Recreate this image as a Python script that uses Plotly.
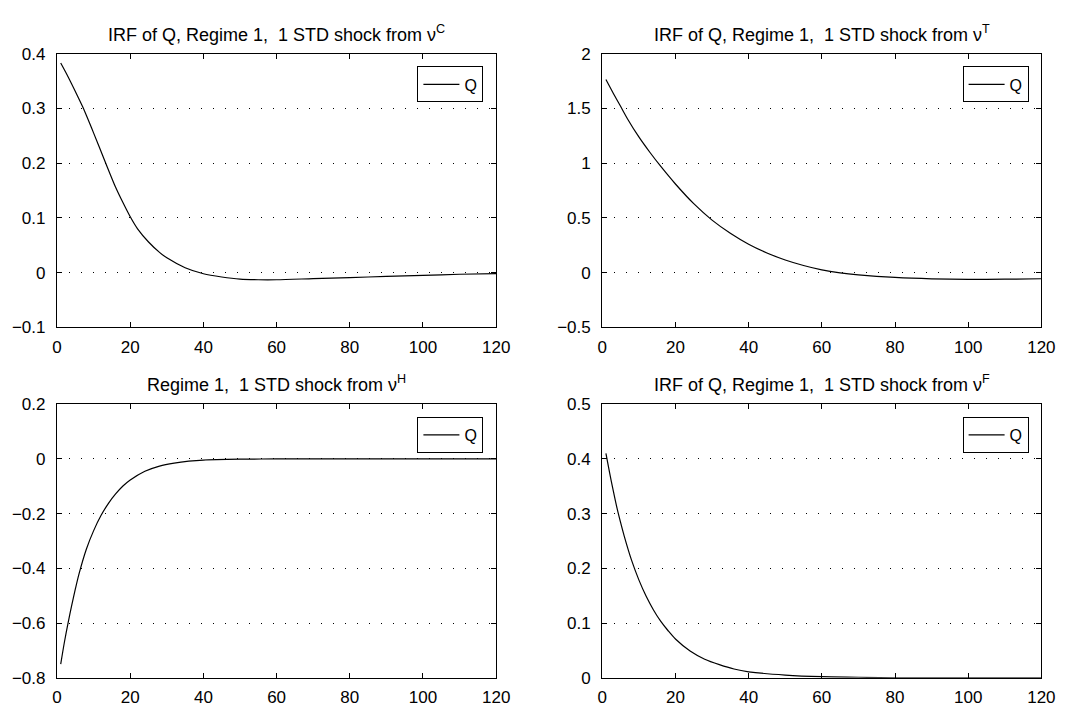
import plotly.graph_objects as go

W, H = 1076, 717

# ---- data ----
x_c = [1, 3, 5, 7, 10, 13, 16, 18, 20, 22, 25, 28, 30, 35, 40, 45, 50, 55, 60, 70, 80, 90, 100, 110, 120]
q_c = [0.383, 0.358, 0.331, 0.303, 0.255, 0.205, 0.156, 0.128, 0.102, 0.08, 0.056, 0.037, 0.027, 0.009,
       -0.002, -0.008, -0.012, -0.013, -0.013, -0.011, -0.009, -0.007, -0.005, -0.003, -0.002]

x_t = [1, 3, 5, 7, 10, 13, 16, 20, 25, 30, 35, 40, 45, 50, 55, 60, 65, 70, 80, 90, 100, 110, 120]
q_t = [1.765, 1.64, 1.52, 1.40, 1.24, 1.10, 0.97, 0.81, 0.63, 0.48, 0.36, 0.26, 0.18, 0.115,
       0.065, 0.025, -0.002, -0.02, -0.044, -0.057, -0.062, -0.06, -0.056]

x_h = [1, 2, 3, 4, 5, 6, 8, 10, 12, 14, 16, 18, 20, 24, 28, 32, 36, 40, 50, 60, 80, 100, 120]
q_h = [-0.75, -0.67, -0.60, -0.535, -0.475, -0.42, -0.33, -0.262, -0.207, -0.163, -0.128, -0.099,
       -0.077, -0.045, -0.026, -0.015, -0.008, -0.004, -0.001, 0.0, 0.0, 0.0, 0.0]

x_f = [1, 2, 3, 4, 5, 6, 8, 10, 12, 14, 16, 18, 20, 24, 28, 32, 36, 40, 50, 60, 70, 80, 100, 120]
q_f = [0.41, 0.375, 0.342, 0.311, 0.284, 0.259, 0.215, 0.179, 0.149, 0.124, 0.103, 0.086, 0.071,
       0.049, 0.034, 0.024, 0.016, 0.011, 0.005, 0.002, 0.001, 0.0, 0.0, 0.0]

x_ticks = [0, 20, 40, 60, 80, 100, 120]

y_ticks_c = [-0.1, 0, 0.1, 0.2, 0.3, 0.4]
y_text_c = ["\u22120.1", "0", "0.1", "0.2", "0.3", "0.4"]
y_ticks_t = [-0.5, 0, 0.5, 1, 1.5, 2]
y_text_t = ["\u22120.5", "0", "0.5", "1", "1.5", "2"]
y_ticks_h = [-0.8, -0.6, -0.4, -0.2, 0, 0.2]
y_text_h = ["\u22120.8", "\u22120.6", "\u22120.4", "\u22120.2", "0", "0.2"]
y_ticks_f = [0, 0.1, 0.2, 0.3, 0.4, 0.5]
y_text_f = ["0", "0.1", "0.2", "0.3", "0.4", "0.5"]

titles = [
    "IRF of Q, Regime 1,\u00a0\u00a01 STD shock from \u03bd<sup>C</sup>",
    "IRF of Q, Regime 1,\u00a0\u00a01 STD shock from \u03bd<sup>T</sup>",
    "Regime 1,\u00a0\u00a01 STD shock from \u03bd<sup>H</sup>",
    "IRF of Q, Regime 1,\u00a0\u00a01 STD shock from \u03bd<sup>F</sup>",
]
series_name = "Q"

# ---- layout geometry (pixels) ----
cols = [(53, 500), (608, 1055)]
rows = [(46, 327), (406, 687)]
FONT = "Liberation Sans, Arial, Helvetica, sans-serif"
TICK_SIZE = 17
TITLE_SIZE = 18

panels = [
    (x_c, q_c, y_ticks_c, y_text_c, 0, 0),
    (x_t, q_t, y_ticks_t, y_text_t, 0, 1),
    (x_h, q_h, y_ticks_h, y_text_h, 1, 0),
    (x_f, q_f, y_ticks_f, y_text_f, 1, 1),
]

fig = go.Figure()
layout = dict(
    width=W, height=H, autosize=False,
    margin=dict(l=0, r=0, t=0, b=0),
    paper_bgcolor="white", plot_bgcolor="white",
    font=dict(family=FONT, size=TICK_SIZE, color="black"),
    annotations=[],
    showlegend=True,
)

for i, (xs, ys, yt, ytx, r, c) in enumerate(panels):
    n = "" if i == 0 else str(i + 1)
    lg = "legend" if i == 0 else f"legend{i + 1}"
    fig.add_trace(go.Scatter(
        x=xs, y=ys, mode="lines", name=series_name,
        line=dict(color="black", width=1.2, shape="spline", smoothing=0.8),
        xaxis="x" + n, yaxis="y" + n, legend=lg,
    ))
    x0, x1 = cols[c]
    y0, y1 = rows[r]
    xdom = [x0 / W, x1 / W]
    ydom = [1 - y1 / H, 1 - y0 / H]
    axcommon = dict(
        showline=True, linecolor="black", linewidth=1.3, mirror="ticks",
        ticks="inside", ticklen=5, tickwidth=1, tickcolor="black",
        zeroline=False, tickfont=dict(family=FONT, size=TICK_SIZE, color="black"),
    )
    layout["xaxis" + n] = dict(
        domain=xdom, range=[0, 120], tickvals=x_ticks, showgrid=False,
        anchor="y" + n, ticklabelstandoff=4, **axcommon,
    )
    layout["yaxis" + n] = dict(
        domain=ydom, range=[yt[0], yt[-1]], tickvals=yt, ticktext=ytx,
        showgrid=True, gridcolor="black", gridwidth=1, griddash="1px,11px",
        anchor="x" + n, ticklabelstandoff=7, **axcommon,
    )
    layout[lg] = dict(
        x=(x1 - 13) / W, xanchor="right", y=1 - (y0 + 13) / H, yanchor="top",
        bgcolor="white", bordercolor="black", borderwidth=1,
        font=dict(family=FONT, size=16, color="black"),
        itemwidth=36, tracegroupgap=0,
    )
    layout["annotations"].append(dict(
        text=titles[i], xref="paper", yref="paper",
        x=(x0 + x1) / 2 / W, y=1 - y0 / H, xanchor="center", yanchor="bottom",
        yshift=7, showarrow=False, font=dict(family=FONT, size=TITLE_SIZE, color="black"),
    ))

fig.update_layout(**layout)
fig.write_html("out.html")
